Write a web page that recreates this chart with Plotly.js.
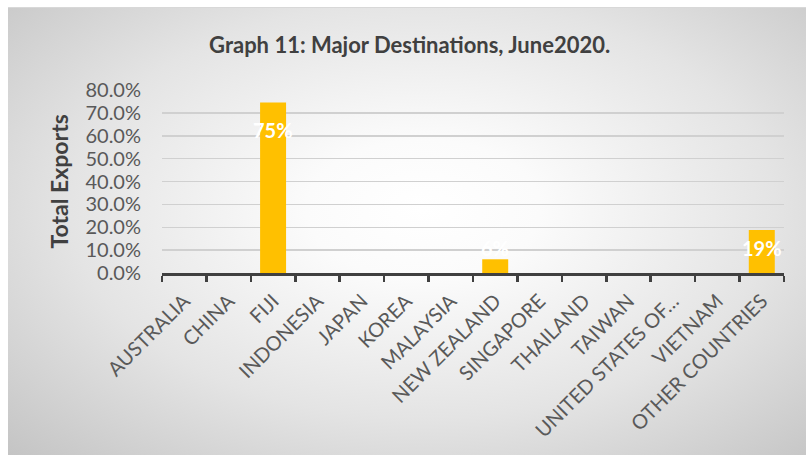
<!DOCTYPE html>
<html>
<head>
<meta charset="utf-8">
<script src="https://cdn.plot.ly/plotly-3.0.1.min.js"></script>
<style>
  html, body { margin: 0; padding: 0; background: #ffffff; }
  #bg { position: absolute; left: 8px; top: 7px; width: 798px; height: 448px;
        background: radial-gradient(ellipse farthest-corner at 52% 45%, #ffffff 0%, #fbfbfb 20%, #e4e4e4 60%, #c4c4c4 100%);
        border-top: 1px solid #d8d8d8; box-sizing: border-box; }
  #chart { position: absolute; left: 0; top: 0; width: 808px; height: 455px; }
</style>
</head>
<body>
<div id="bg"></div>
<div id="chart"></div>
<script>
const categories = ["AUSTRALIA", "CHINA", "FIJI", "INDONESIA", "JAPAN", "KOREA", "MALAYSIA",
  "NEW ZEALAND", "SINGAPORE", "THAILAND", "TAIWAN", "UNITED STATES OF…", "VIETNAM", "OTHER COUNTRIES"];
const shares = [0, 0, 0.745, 0, 0, 0, 0, 0.06, 0, 0, 0, 0, 0, 0.188];
const labels = ["", "", "75%", "", "", "", "", "6%", "", "", "", "", "", "19%"];
const yTickVals = [0, 0.1, 0.2, 0.3, 0.4, 0.5, 0.6, 0.7, 0.8];
const yTickText = ["0.0%", "10.0%", "20.0%", "30.0%", "40.0%", "50.0%", "60.0%", "70.0%", "80.0%"];
const chartTitle = "Graph 11: Major Destinations, June2020.";
const yTitle = "Total Exports";

const FONT = "Lato, 'Open Sans', sans-serif";

const trace = {
  type: "bar",
  x: categories,
  y: shares,
  marker: { color: "#FFC000", line: { width: 0 } },
  hoverinfo: "skip"
};

const annotations = [];
labels.forEach((t, i) => {
  if (!t) return;
  annotations.push({
    x: categories[i], xref: "x",
    y: Math.max(shares[i] - 0.12, 0.11), yref: "y",
    text: "<b>" + t + "</b>", showarrow: false,
    font: { family: FONT, size: 20, color: "#ffffff" },
    xanchor: "center", yanchor: "middle"
  });
});
annotations.push({
  xref: "paper", yref: "paper",
  x: (58 - 162) / 622, y: 0.5,
  text: "<b>" + yTitle + "</b>", textangle: -90, showarrow: false,
  font: { family: FONT, size: 23, color: "#404040" },
  xanchor: "center", yanchor: "middle"
});

const layout = {
  width: 808, height: 455,
  margin: { l: 162, r: 24, t: 90, b: 182, pad: 0 },
  paper_bgcolor: "rgba(0,0,0,0)",
  plot_bgcolor: "rgba(0,0,0,0)",
  showlegend: false,
  bargap: 0.415,
  title: {
    text: "<b>" + chartTitle + "</b>",
    font: { family: FONT, size: 22, color: "#404040" },
    xref: "container", yref: "container",
    x: 0.507, y: 1 - 45 / 455, xanchor: "center", yanchor: "middle"
  },
  xaxis: {
    type: "category",
    tickangle: -45,
    tickfont: { family: FONT, size: 20, color: "#595959" },
    ticks: "outside", tickson: "boundaries", ticklen: 6, tickwidth: 2.5, tickcolor: "#404040",
    ticklabelstandoff: 6,
    showline: true, linecolor: "#404040", linewidth: 2.5,
    showgrid: false, fixedrange: true, automargin: false
  },
  yaxis: {
    range: [0, 0.8],
    tickvals: yTickVals, ticktext: yTickText,
    tickfont: { family: FONT, size: 20, color: "#595959" },
    ticks: "", ticklabelstandoff: 20,
    showgrid: true, gridcolor: "#d0d0d0", gridwidth: 1.5,
    zeroline: false, showline: false, fixedrange: true, automargin: false
  },
  annotations: annotations
};

Plotly.newPlot("chart", [trace], layout, { displayModeBar: false, staticPlot: true });
</script>
</body>
</html>
